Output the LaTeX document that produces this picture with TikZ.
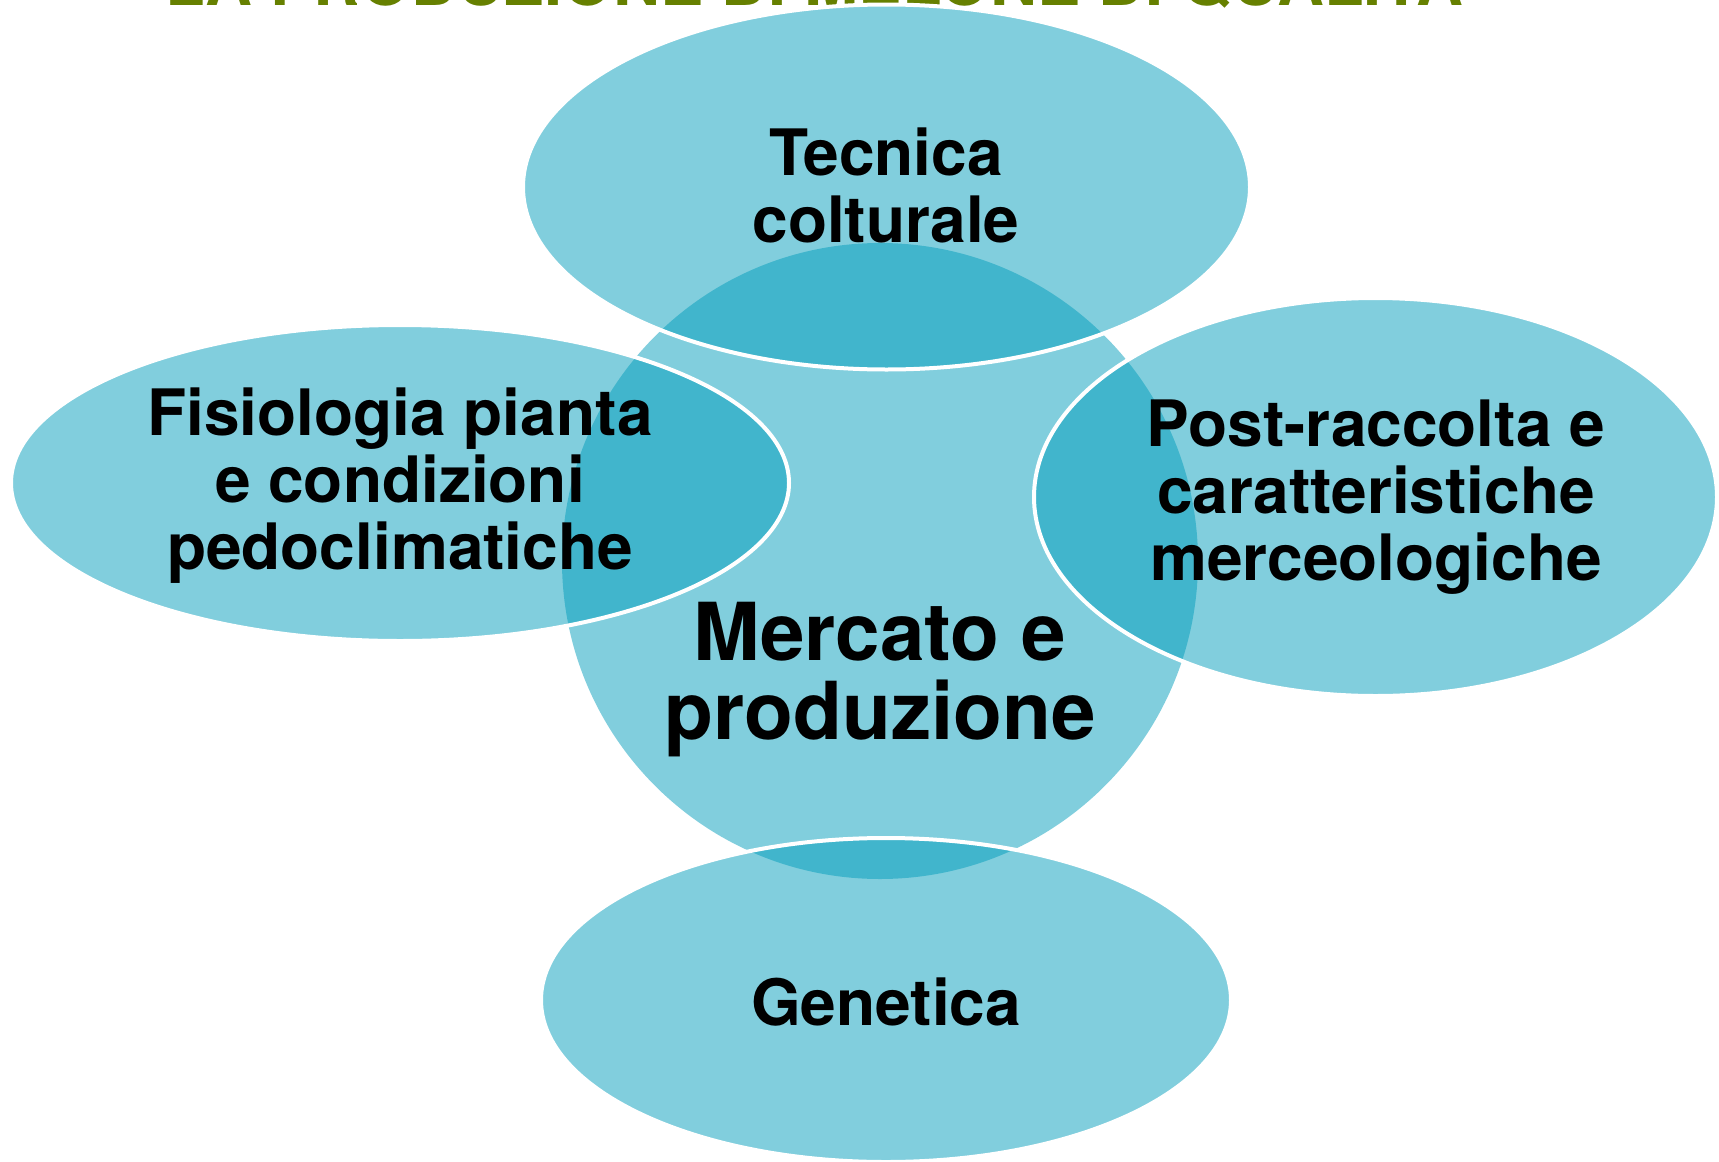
\documentclass[tikz,border=0pt]{standalone}
\usepackage{fontspec}
\setmainfont{TeX Gyre Heros}
\definecolor{petal}{RGB}{3,157,187}
\definecolor{olive}{RGB}{102,128,0}
\tikzset{
  petalfill/.style={fill=petal, fill opacity=0.5},
  petaledge/.style={petalfill, draw=white, line width=4pt},
  lbl/.style={font=\bfseries\fontsize{64}{67}\selectfont, align=center, text=black, inner sep=0pt},
  biglbl/.style={font=\bfseries\fontsize{80}{79}\selectfont, align=center, text=black, inner sep=0pt},
}
\begin{document}
\begin{tikzpicture}[x=1pt,y=-1pt]
\clip (0,0) rectangle (1719,1162);
\useasboundingbox (0,0) rectangle (1719,1162);
% title, cut off at the top as in the reference
\node[anchor=base, text=olive, inner sep=0pt, font=\bfseries\fontsize{65}{65}\selectfont] (title) at (814,5) {LA PRODUZIONE DI MELONE DI QUALITA};
% central circle
\path[petalfill] (880,561) circle[radius=318];
\coordinate (center) at (880,561);
% ellipses
\path[petaledge] (886.5,187) ellipse[x radius=363.5, y radius=182.5];
\path[petaledge] (400,483) ellipse[x radius=389, y radius=158];
\path[petaledge] (1375.5,497) ellipse[x radius=341.5, y radius=199];
\path[petaledge] (886,1000) ellipse[x radius=345, y radius=162];
% labels
\node[biglbl] (mercato) at (880,680) {Mercato e\\produzione};
\node[lbl] (tecnica) at (886,185) {Tecnica\\colturale};
\node[lbl] (fisio) at (400,486) {Fisiologia pianta\\e condizioni\\pedoclimatiche};
\node[lbl] (post) at (1376,497) {Post-raccolta e\\caratteristiche\\merceologiche};
\node[lbl] (gen) at (886,1002) {Genetica};
\end{tikzpicture}
\end{document}
